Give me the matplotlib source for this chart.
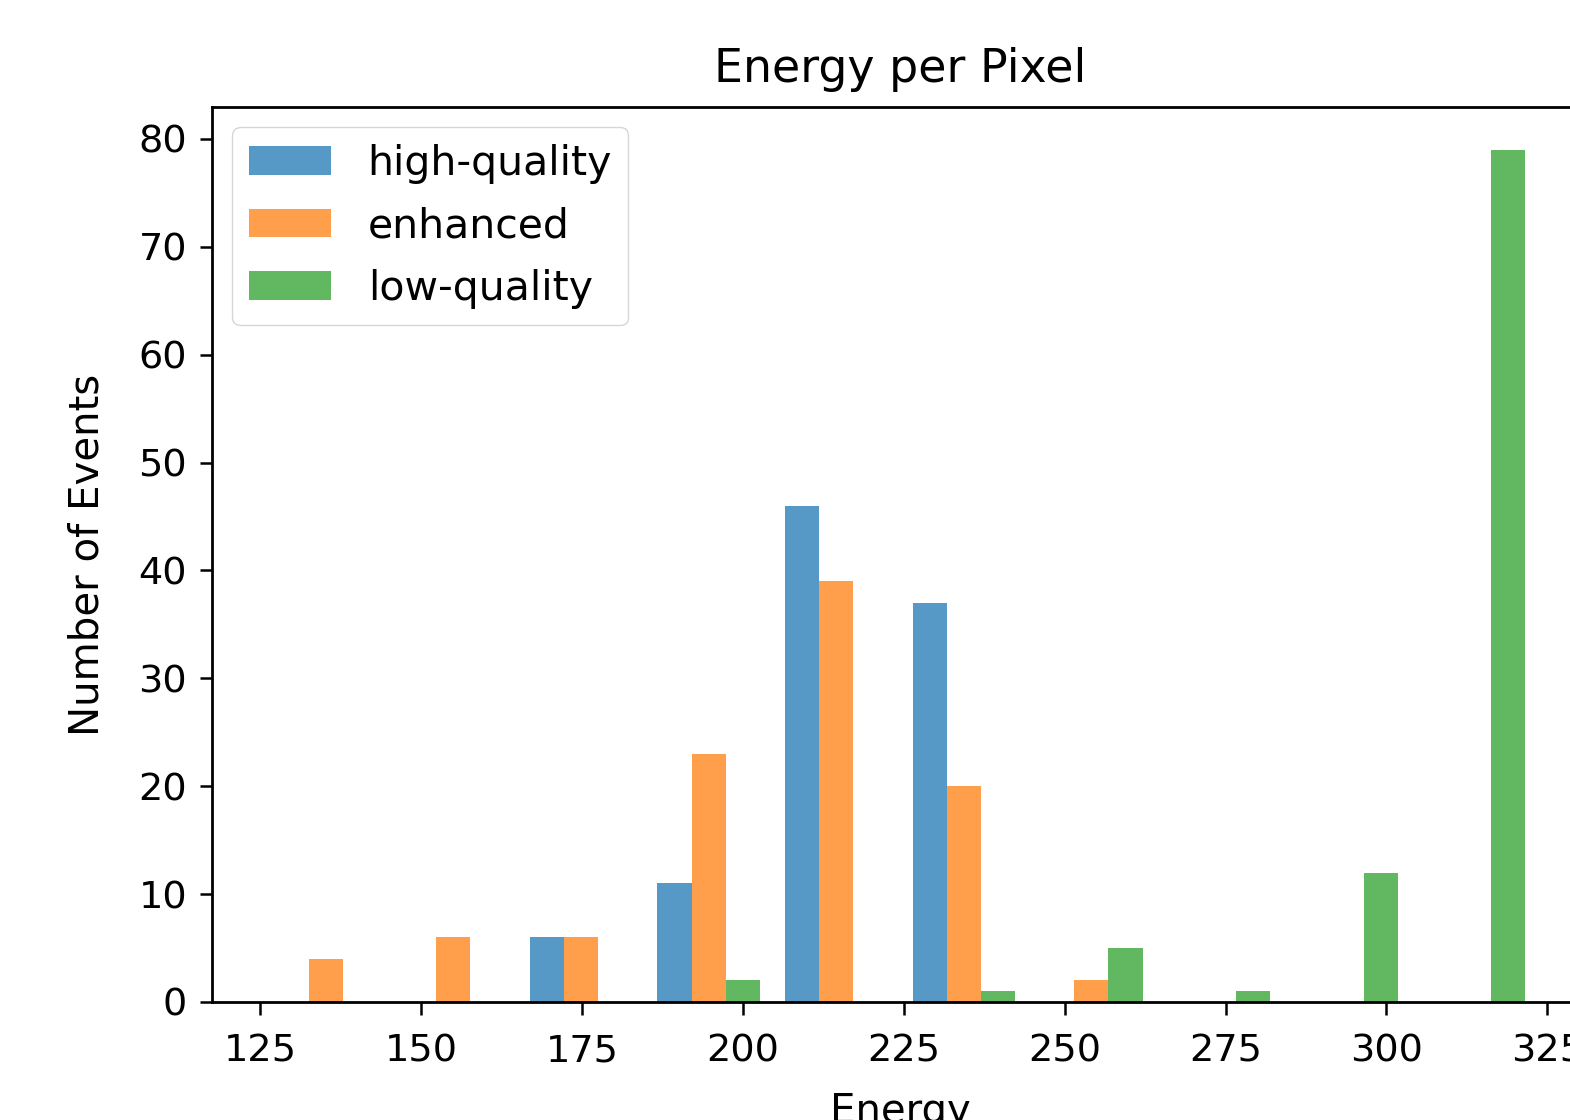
import numpy as np
import matplotlib
matplotlib.use("Agg")
import matplotlib.pyplot as plt

# Data
labels = ["high-quality", "enhanced", "low-quality"]
colors = ["#1f77b4", "#ff7f0e", "#2ca02c"]
energy_min = 125.2
energy_max = 323.6
n_bins = 10
high_quality = [0, 0, 6, 11, 46, 37, 0, 0, 0, 0]
enhanced = [4, 6, 6, 23, 39, 20, 2, 0, 0, 0]
low_quality = [0, 0, 0, 2, 0, 1, 5, 1, 12, 79]

bin_edges = np.linspace(energy_min, energy_max, n_bins + 1)
bin_centers = 0.5 * (bin_edges[:-1] + bin_edges[1:])

W, H = 1570, 1120
fig = plt.figure(figsize=(W / 100, H / 100), dpi=100)
ax = fig.add_axes([212 / W, (H - 1002) / H, 1376 / W, 895 / H])

ax.hist([bin_centers, bin_centers, bin_centers], bins=bin_edges,
        weights=[high_quality, enhanced, low_quality],
        color=colors, alpha=0.75, label=labels)

ax.set_title("Energy per Pixel", fontsize=33, pad=18)
ax.set_xlabel("Energy", fontsize=29, labelpad=16)
ax.set_ylabel("Number of Events", fontsize=29, labelpad=22)
ax.tick_params(labelsize=27.5, length=9, width=1.8)
ax.tick_params(axis="x", pad=14)
ax.tick_params(axis="y", pad=9)
for s in ax.spines.values():
    s.set_linewidth(2.0)
ax.legend(loc="upper left", fontsize=29.5, borderpad=0.4, handlelength=2.0,
          handletextpad=0.9, labelspacing=0.55, borderaxespad=0.5)

fig.savefig("out.png", dpi=100)
